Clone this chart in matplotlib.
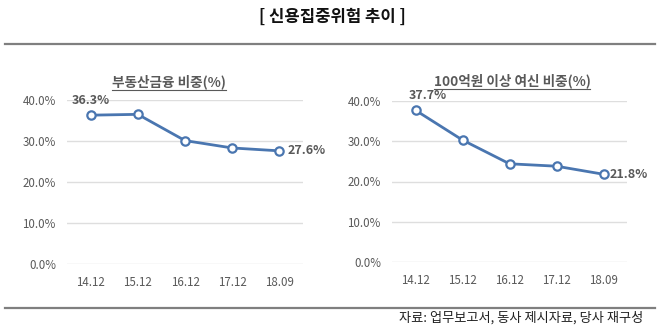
import matplotlib
matplotlib.use("Agg")
import matplotlib.pyplot as plt
from matplotlib.lines import Line2D

plt.rcParams['font.family'] = ['Noto Sans CJK KR', 'DejaVu Sans']

periods = ["14.12", "15.12", "16.12", "17.12", "18.09"]
realestate_share = [36.3, 36.5, 30.1, 28.3, 27.6]
large_loan_share = [37.7, 30.3, 24.4, 23.8, 21.8]
yticks = [0, 10, 20, 30, 40]

header = "[ 신용집중위험 추이 ]"
left_title = "부동산금융 비중(%)"
right_title = "100억원 이상 여신 비중(%)"
source = "자료: 업무보고서, 동사 제시자료, 당사 재구성"

W, H = 660, 325
line_col = "#4a76b0"
grey = "#595959"

fig = plt.figure(figsize=(W / 100, H / 100), dpi=100)
fig.patch.set_facecolor("white")


def fx(x):
    return x / W


def fy(y):
    return 1 - y / H


# header + rules
fig.text(fx(332), fy(17), header, ha="center", va="center",
         fontsize=12, fontweight="bold", color="#111111")
fig.add_artist(Line2D([fx(5), fx(655)], [fy(44), fy(44)], color="#7f7f7f", lw=1.6))
fig.add_artist(Line2D([fx(5), fx(655)], [fy(308), fy(308)], color="#7f7f7f", lw=1.6))
fig.text(fx(643), fy(318), source, ha="right", va="center", fontsize=9.5, color="#222222")


def panel(rect, values, title, title_x, title_y, first_off, last_off):
    ax = fig.add_axes(rect)
    x = range(len(periods))
    ax.plot(x, values, color=line_col, lw=2, marker="o", ms=6,
            mfc="white", mec=line_col, mew=1.6, zorder=3, clip_on=False)
    ax.set_xlim(-0.5, len(periods) - 0.5)
    ax.set_ylim(0, 40)
    ax.set_yticks(yticks)
    ax.set_yticklabels([f"{v:.1f}%" for v in yticks])
    ax.set_xticks(list(x))
    ax.set_xticklabels(periods)
    ax.grid(axis="y", color="#dedede", lw=1)
    ax.set_axisbelow(True)
    for s in ax.spines.values():
        s.set_visible(False)
    ax.tick_params(length=0, labelsize=8.3, labelcolor=grey)
    ax.tick_params(axis="y", pad=8)
    ax.tick_params(axis="x", pad=9)
    ax.annotate(f"{values[0]:.1f}%", (0, values[0]), xytext=first_off,
                textcoords="offset pixels", ha="center", va="center",
                fontsize=9, fontweight="bold", color=grey, annotation_clip=False)
    ax.annotate(f"{values[-1]:.1f}%", (len(values) - 1, values[-1]), xytext=last_off,
                textcoords="offset pixels", ha="left", va="center",
                fontsize=9, fontweight="bold", color=grey, annotation_clip=False)
    t = fig.text(fx(title_x), fy(title_y), title, ha="center", va="center",
                 fontsize=9.8, fontweight="bold", color=grey)
    return t


t1 = panel([fx(67), fy(264), (303 - 67) / W, (264 - 100) / H],
           realestate_share, left_title, 169, 82, (0, 15), (8, 0))
t2 = panel([fx(392), fy(262), (627 - 392) / W, (262 - 101) / H],
           large_loan_share, right_title, 512, 81, (12, 15), (6, 0))

# underline the panel titles
fig.canvas.draw()
r = fig.canvas.get_renderer()
for t in (t1, t2):
    bb = t.get_window_extent(renderer=r)
    yb = bb.y0 - 1
    fig.add_artist(Line2D([bb.x0 / W, bb.x1 / W], [yb / H, yb / H], color=grey, lw=0.8))

fig.savefig("out.png", dpi=100)
